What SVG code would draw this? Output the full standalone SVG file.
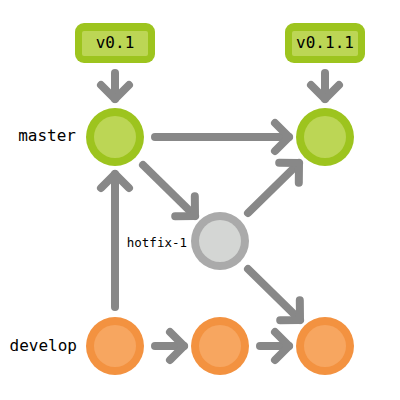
<svg xmlns="http://www.w3.org/2000/svg" width="400" height="400" viewBox="0 0 400 400">
<defs>
<style>
.lbl{font-family:"DejaVu Sans Mono","Liberation Mono",monospace;fill:#000000}
.green .o{fill:#9dc41e}
.green .i{fill:#bcd655}
.orange .o{fill:#f39240}
.orange .i{fill:#f7a660}
.gray .o{fill:#aaaaaa}
.gray .i{fill:#d4d6d4}
.tag .o{fill:#9dc41e}
.tag .i{fill:#bcd655}
.conn line{stroke:#888888;stroke-width:8;stroke-linecap:round;fill:none}
</style>
<marker id="ah" markerUnits="userSpaceOnUse" viewBox="-20 -20 28 40" markerWidth="28" markerHeight="40" refX="0" refY="0" orient="auto" overflow="visible">
<path d="M-14,-14 L0,0 L-14,14" fill="none" stroke="#888888" stroke-width="8" stroke-linecap="round" stroke-linejoin="round"/>
</marker>
</defs>
<rect width="400" height="400" fill="#ffffff"/>
<g id="connectors" class="conn">
<line x1="115" y1="73" x2="115" y2="99" marker-end="url(#ah)"/>
<line x1="325" y1="73" x2="325" y2="99" marker-end="url(#ah)"/>
<line x1="155" y1="137" x2="289" y2="137" marker-end="url(#ah)"/>
<line x1="143" y1="165" x2="195" y2="216" marker-end="url(#ah)"/>
<line x1="248" y1="213" x2="299" y2="163" marker-end="url(#ah)"/>
<line x1="248" y1="269" x2="300" y2="320" marker-end="url(#ah)"/>
<line x1="115" y1="307" x2="115" y2="174" marker-end="url(#ah)"/>
<line x1="155" y1="346" x2="184" y2="346" marker-end="url(#ah)"/>
<line x1="260" y1="346" x2="289" y2="346" marker-end="url(#ah)"/>
</g>
<g id="tag-v0.1" class="tag">
<rect class="o" x="75" y="23" width="80" height="40" rx="9"/>
<rect class="i" x="82" y="31" width="66" height="25" rx="2"/>
<text class="lbl" x="115" y="48" font-size="16" text-anchor="middle">v0.1</text>
</g>
<g id="tag-v0.1.1" class="tag">
<rect class="o" x="285" y="23" width="80" height="40" rx="9"/>
<rect class="i" x="292" y="31" width="66" height="25" rx="2"/>
<text class="lbl" x="325" y="48" font-size="16" text-anchor="middle">v0.1.1</text>
</g>
<g id="master-1" class="green">
<circle class="o" cx="115" cy="137" r="29"/>
<circle class="i" cx="115" cy="137" r="21"/>
</g>
<g id="master-2" class="green">
<circle class="o" cx="325" cy="137" r="29"/>
<circle class="i" cx="325" cy="137" r="21"/>
</g>
<g id="hotfix" class="gray">
<circle class="o" cx="220" cy="241" r="29"/>
<circle class="i" cx="220" cy="241" r="21"/>
</g>
<g id="develop-1" class="orange">
<circle class="o" cx="115" cy="346" r="29"/>
<circle class="i" cx="115" cy="346" r="21"/>
</g>
<g id="develop-2" class="orange">
<circle class="o" cx="220" cy="346" r="29"/>
<circle class="i" cx="220" cy="346" r="21"/>
</g>
<g id="develop-3" class="orange">
<circle class="o" cx="325" cy="346" r="29"/>
<circle class="i" cx="325" cy="346" r="21"/>
</g>
<g id="labels">
<text class="lbl" x="76" y="141" font-size="16" text-anchor="end">master</text>
<text class="lbl" x="187" y="247" font-size="12.5" text-anchor="end">hotfix-1</text>
<text class="lbl" x="77" y="351" font-size="16" text-anchor="end">develop</text>
</g>
</svg>
